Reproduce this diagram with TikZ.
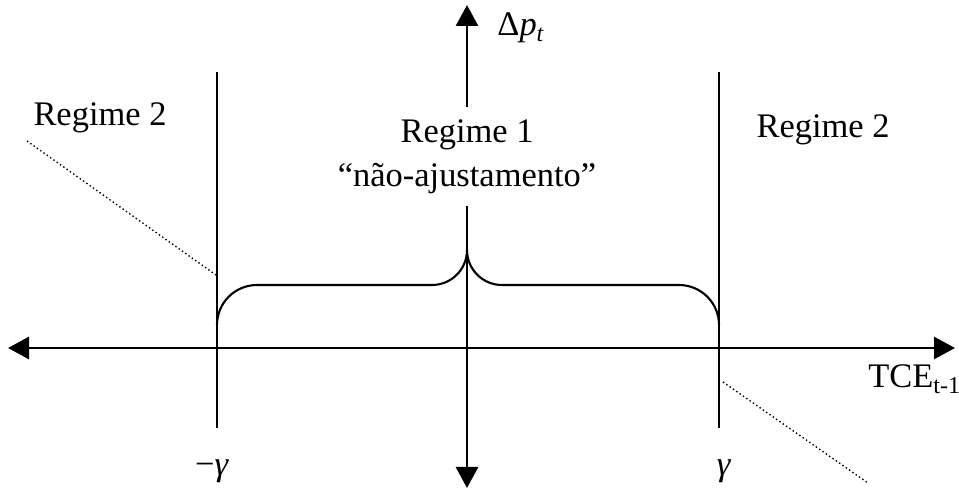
\documentclass[tikz,border=0pt]{standalone}
\usepackage{fontspec}
\setmainfont{Liberation Serif}
\usetikzlibrary{arrows.meta}

\begin{document}
\begin{tikzpicture}[
    axis/.style={line width=1.6pt, {Triangle[length=0.42cm,width=0.44cm]}-{Triangle[length=0.42cm,width=0.44cm]}},
    bound/.style={line width=1.2pt},
    trend/.style={line width=0.8pt, dash pattern=on 0.8pt off 1.5pt},
    txt/.style={font=\fontsize{19.6}{25}\selectfont, inner sep=0pt}
]
    % Fix the picture size
    \useasboundingbox (0,0) rectangle (19.18,9.88);

    % Define the axis end points
    \coordinate (W) at (0.16,2.92);
    \coordinate (E) at (19.1,2.92);
    \coordinate (S) at (9.34,0.12);
    \coordinate (N) at (9.34,9.78);

    % Define the threshold lines
    \coordinate (LT) at (4.34,8.44);  % -gamma
    \coordinate (LB) at (4.34,1.32);
    \coordinate (RT) at (14.38,8.44); % gamma
    \coordinate (RB) at (14.38,1.32);

    % Draw the axes
    \draw[axis] (W) -- (E);
    \draw[axis] (S) -- (N);

    % Draw the threshold lines
    \draw[bound] (LT) -- (LB);
    \draw[bound] (RT) -- (RB);

    % Draw the brace over regime 1
    \draw[bound] (4.34,3.38) arc[start angle=180, end angle=90, radius=0.8]
        -- (8.64,4.18) arc[start angle=-90, end angle=0, radius=0.7]
        arc[start angle=180, end angle=270, radius=0.7]
        -- (13.58,4.18) arc[start angle=90, end angle=0, radius=0.8];

    % Draw the dotted adjustment lines
    \coordinate (D1) at (0.54,7.06);
    \coordinate (D2) at (4.32,4.38);
    \coordinate (D3) at (14.46,2.24);
    \coordinate (D4) at (17.36,0.22);
    \draw[trend] (D1) -- (D2);
    \draw[trend] (D3) -- (D4);

    % Add the labels
    \node[txt, anchor=base] (regL) at (2.0,7.36) {Regime 2};
    \node[txt, anchor=north, fill=white, align=center, inner xsep=0.1cm, inner ysep=0.25cm] (regM) at (9.34,7.74) {Regime 1\\“não-ajustamento”};
    \node[txt, anchor=base] (regR) at (16.46,7.12) {Regime 2};
    \node[txt, anchor=base west] (dp) at (9.94,9.16) {Δ\textit{p}\textsubscript{\textit{t}}};
    \node[txt, anchor=base west] (tce) at (17.36,2.12) {TCE\textsubscript{t-1}};
    \node[txt, anchor=base] (gamL) at (4.24,0.36) {−\textit{γ}};
    \node[txt, anchor=base] (gamR) at (14.48,0.36) {\textit{γ}};
\end{tikzpicture}
\end{document}
